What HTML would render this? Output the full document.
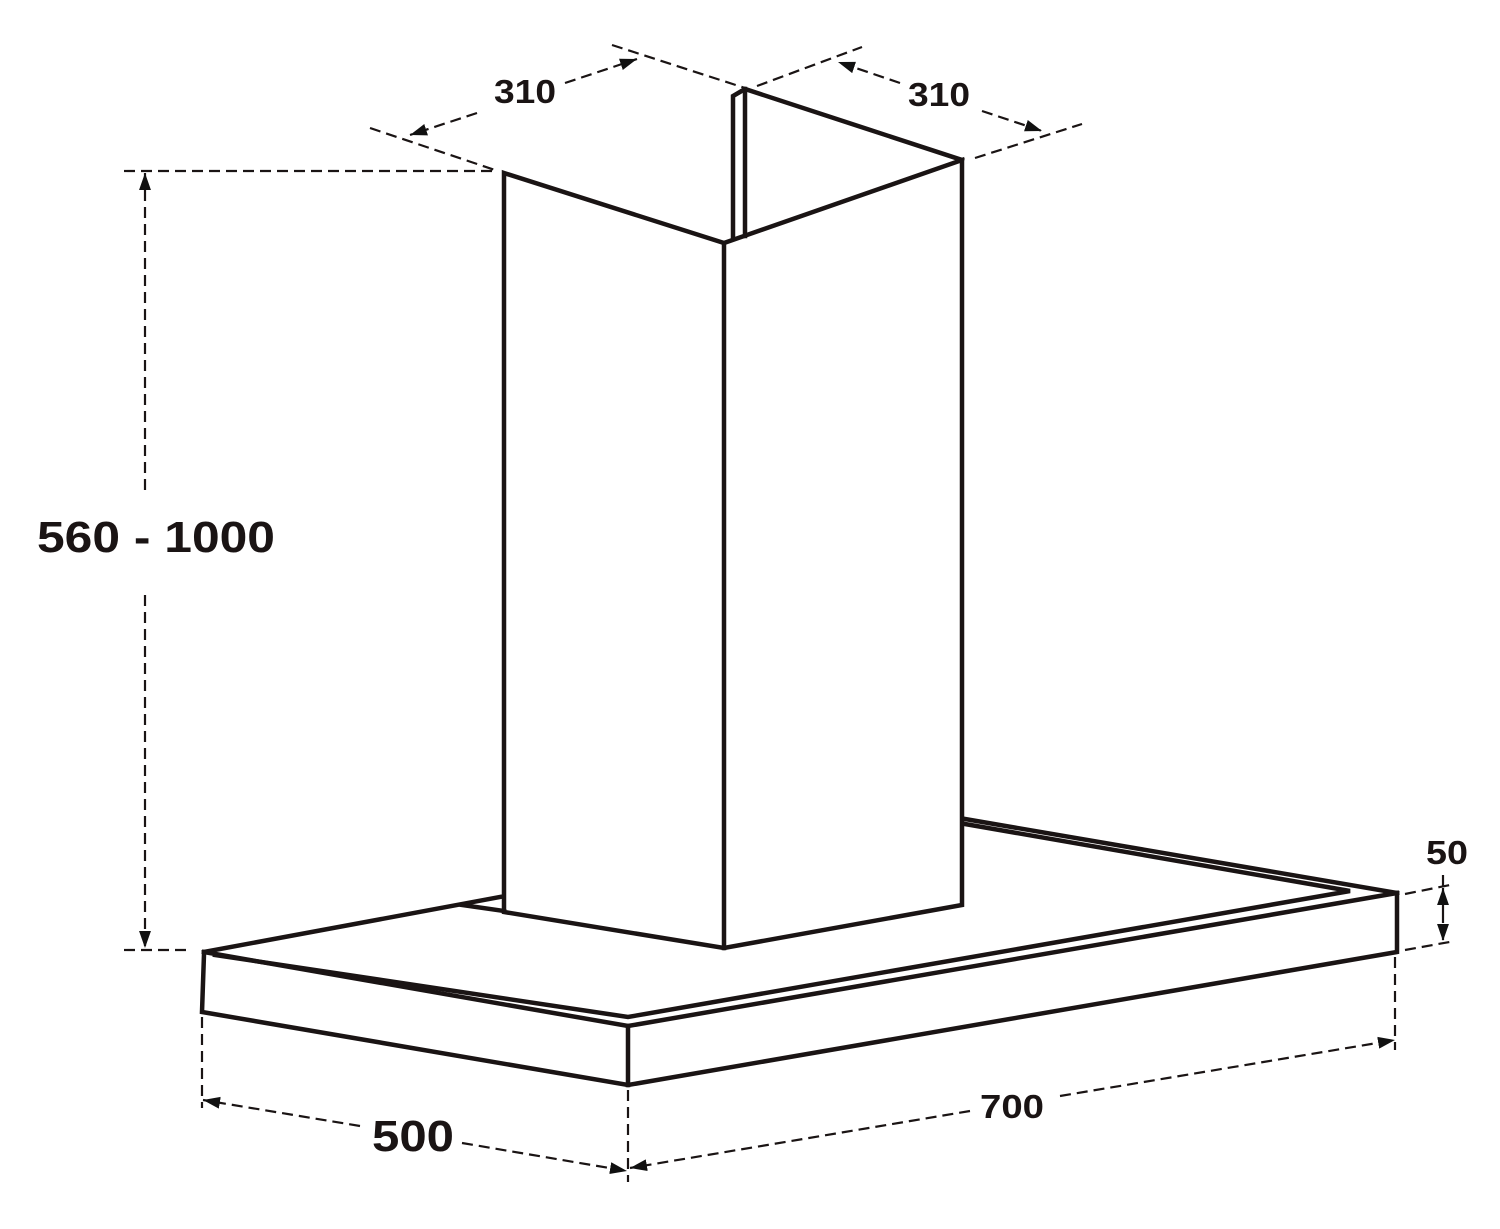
<!DOCTYPE html>
<html><head><style>html,body{margin:0;padding:0;background:#fff}svg{display:block}</style></head>
<body>
<svg width="1500" height="1229" viewBox="0 0 1500 1229" xmlns="http://www.w3.org/2000/svg">
<defs>
<marker id="b" viewBox="0 0 10 10" refX="10" refY="5" markerWidth="17" markerHeight="17" orient="auto-start-reverse" markerUnits="userSpaceOnUse">
<path d="M0,1.5 L10,5 L0,8.5 z" fill="#111"/></marker>
</defs>
<g fill="none" stroke="#1a1414" stroke-width="4.5" stroke-linejoin="miter" stroke-linecap="square">
<path d="M504,173 L724,243 L962,160 L962,905 L724,948 L504,912 Z"/>
<line x1="724" y1="243" x2="724" y2="948"/>
<path d="M733,238 L733,96 L745,89 L962,160"/>
<line x1="745" y1="89" x2="745" y2="236"/>
<path d="M204,952 L500,897"/>
<path d="M462,905 L504,911"/>
<path d="M965,819 L1397,893"/>
<path d="M965,824 L1350,891 L628,1017 L215,955"/>
<path d="M204,952 L628,1026 L1397,893"/>
<path d="M204,954 L202,1012 L628,1085 L1397,952 L1397,893"/>
<line x1="628" y1="1026" x2="628" y2="1085"/>
</g>
<g fill="none" stroke="#1a1414" stroke-width="2.2" stroke-dasharray="11,6">
<line x1="124" y1="171" x2="498" y2="171"/>
<line x1="124" y1="950" x2="190" y2="950"/>
<line x1="145" y1="490" x2="145" y2="173" marker-end="url(#b)"/>
<line x1="145" y1="595" x2="145" y2="948" marker-end="url(#b)"/>
<line x1="370" y1="128" x2="495" y2="170"/>
<line x1="612" y1="45" x2="745" y2="88"/>
<line x1="565" y1="83" x2="637" y2="59" marker-end="url(#b)"/>
<line x1="477" y1="113" x2="410" y2="135" marker-end="url(#b)"/>
<line x1="757" y1="86" x2="862" y2="47"/>
<line x1="975" y1="158" x2="1082" y2="124"/>
<line x1="900" y1="83" x2="838" y2="62" marker-end="url(#b)"/>
<line x1="982" y1="111" x2="1042" y2="131" marker-end="url(#b)"/>
<line x1="1405" y1="894" x2="1455" y2="884"/>
<line x1="1405" y1="950" x2="1455" y2="941"/>
<line x1="1443" y1="875" x2="1443" y2="888"/>
<line x1="1443" y1="912" x2="1443" y2="888" marker-end="url(#b)"/>
<line x1="1443" y1="912" x2="1443" y2="941" marker-end="url(#b)"/>
<line x1="1395" y1="957" x2="1395" y2="1050"/>
<line x1="628" y1="1090" x2="628" y2="1182"/>
<line x1="1060" y1="1096" x2="1395" y2="1040" marker-end="url(#b)"/>
<line x1="970" y1="1111" x2="630" y2="1168" marker-end="url(#b)"/>
<line x1="202" y1="1017" x2="202" y2="1108"/>
<line x1="360" y1="1126" x2="203" y2="1100" marker-end="url(#b)"/>
<line x1="462" y1="1143" x2="627" y2="1171" marker-end="url(#b)"/>
</g>
<g font-family="Liberation Sans, sans-serif" font-weight="bold" fill="#1a1414">
<text x="37" y="552" font-size="44" textLength="238" lengthAdjust="spacingAndGlyphs">560 - 1000</text>
<text x="494" y="103" font-size="33" textLength="62" lengthAdjust="spacingAndGlyphs">310</text>
<text x="908" y="106" font-size="33" textLength="62" lengthAdjust="spacingAndGlyphs">310</text>
<text x="1426" y="864" font-size="33" textLength="42" lengthAdjust="spacingAndGlyphs">50</text>
<text x="980" y="1118" font-size="33" textLength="64" lengthAdjust="spacingAndGlyphs">700</text>
<text x="372" y="1151" font-size="44" textLength="82" lengthAdjust="spacingAndGlyphs">500</text>
</g>
</svg>
</body></html>
